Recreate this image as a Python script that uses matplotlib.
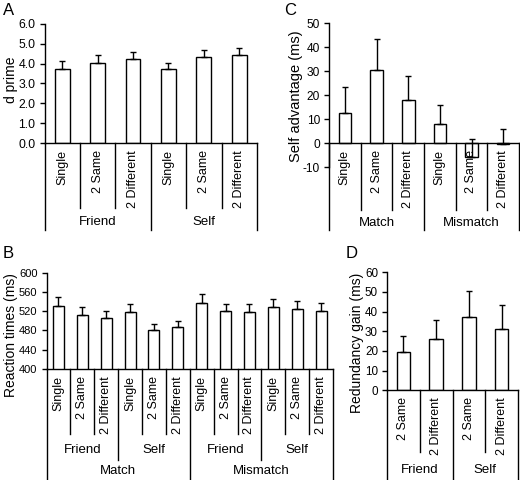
import matplotlib
matplotlib.use('Agg')
import matplotlib.pyplot as plt
from matplotlib.transforms import blended_transform_factory as btf
from matplotlib.ticker import FormatStrFormatter

plt.rcParams['font.family'] = ['Liberation Sans', 'DejaVu Sans']

# ---------------- data ----------------
cats3 = ['Single', '2 Same', '2 Different']
cats2 = ['2 Same', '2 Different']

a_cats = cats3 * 2
a_vals = [3.75, 4.05, 4.22, 3.75, 4.35, 4.42]
a_errs = [0.40, 0.37, 0.36, 0.30, 0.35, 0.38]
a_groups = ['Friend', 'Self']

b_cats = cats3 * 4
b_vals = [531, 512, 506, 518, 481, 487, 538, 520, 519, 529, 524, 521]
b_errs = [18, 16, 15, 18, 12, 13, 17, 14, 15, 16, 17, 17]
b_groups1 = ['Friend', 'Self', 'Friend', 'Self']
b_groups2 = ['Match', 'Mismatch']

c_cats = cats3 * 2
c_vals = [12.7, 30.5, 18.0, 8.0, -5.8, -0.5]
c_errs = [10.8, 12.8, 10.0, 8.0, 7.3, 6.2]
c_groups = ['Match', 'Mismatch']

d_cats = cats2 * 2
d_vals = [19.5, 26.0, 37.5, 31.0]
d_errs = [8.0, 9.8, 13.0, 12.5]
d_groups = ['Friend', 'Self']

W, H = 520, 480
fig = plt.figure(figsize=(W / 100, H / 100), dpi=100)

def fx(px):
    return px / W

def fy(py):
    return 1 - py / H

def panel(left, right, top, bottom, axis_py, ylim, yticks, fmt, vals, errs,
          cats, levels, ends, width, ylabel, ylab_pos, ylab_fs, tick_fs,
          letter, letter_pos):
    ax = fig.add_axes([fx(left), fy(bottom), fx(right - left), (bottom - top) / H])
    n = len(vals)
    x = list(range(n))
    ax.bar(x, vals, width=width, color='white', edgecolor='black', linewidth=1.0, zorder=2)
    ax.errorbar(x, vals, yerr=[[0] * n, errs], fmt='none', ecolor='black',
                elinewidth=1.0, capsize=2.2, capthick=1.0, zorder=3)
    ax.set_xlim(-0.5, n - 0.5)
    ax.set_ylim(*ylim)
    ax.set_yticks(yticks)
    ax.yaxis.set_major_formatter(FormatStrFormatter(fmt))
    ax.tick_params(axis='y', direction='out', length=3.5, width=1, pad=3,
                   labelsize=tick_fs, colors='black')
    ax.set_xticks([])
    for s in ['top', 'right', 'bottom']:
        ax.spines[s].set_visible(False)
    ax.spines['left'].set_linewidth(1.0)
    ax.set_facecolor('none')
    tr = btf(ax.transData, fig.transFigure)
    ax.plot([-0.5, n - 0.5], [fy(axis_py)] * 2, transform=tr, color='black',
            lw=1.0, clip_on=False)
    sizes = [1] + [lv[0] for lv in levels]
    for b in range(1, n):
        lvl = 0
        for k, sz in enumerate(sizes):
            if b % sz == 0:
                lvl = k
        end = ends[lvl]
        ax.plot([b - 0.5] * 2, [fy(axis_py), fy(end)], transform=tr,
                color='black', lw=1.0, clip_on=False)
    for e in (-0.5, n - 0.5):
        ax.plot([e] * 2, [fy(axis_py), fy(ends[-1])], transform=tr,
                color='black', lw=1.0, clip_on=False)
    for i, c in enumerate(cats):
        ax.text(i, fy(axis_py + 7), c, transform=tr, rotation=90, ha='center',
                va='top', fontsize=9)
    for sz, labels, ly in levels:
        for j, lab in enumerate(labels):
            cx = j * sz + (sz - 1) / 2
            ax.text(cx, fy(ly), lab, transform=tr, ha='center', va='center',
                    fontsize=9.5)
    fig.text(fx(ylab_pos[0]), fy(ylab_pos[1]), ylabel, rotation=90,
             ha='center', va='center', fontsize=ylab_fs)
    fig.text(fx(letter_pos[0]), fy(letter_pos[1]), letter, ha='left',
             va='top', fontsize=12)
    return ax

# Panel A
panel(44.5, 257, 24, 143, 143, (0, 6), [0, 1, 2, 3, 4, 5, 6], '%.1f',
      a_vals, a_errs, a_cats, [(3, a_groups, 222)], [208, 230], 0.42,
      'd prime', (11.5, 80), 10, 8.8, 'A', (3, 3))

# Panel C
panel(329, 519, 23, 167, 143, (-10, 50), [-10, 0, 10, 20, 30, 40, 50], '%d',
      c_vals, c_errs, c_cats, [(3, c_groups, 223)], [210, 230], 0.4,
      'Self advantage (ms)', (296, 96), 10.5, 8.6, 'C', (284, 3))

# Panel B
panel(46.5, 333, 272.7, 369, 369, (400, 600), [400, 440, 480, 520, 560, 600], '%d',
      b_vals, b_errs, b_cats, [(3, b_groups1, 450), (6, b_groups2, 471)],
      [434, 460, 480], 0.46,
      'Reaction times (ms)', (11, 335), 10, 8, 'B', (3, 246))

# Panel D
panel(387, 518, 272.3, 390.3, 390.3, (0, 60), [0, 10, 20, 30, 40, 50, 60], '%d',
      d_vals, d_errs, d_cats, [(2, d_groups, 470)], [452, 480], 0.41,
      'Redundancy gain (ms)', (357, 343), 10, 8.4, 'D', (346, 246))

fig.savefig('out.png', dpi=100)
